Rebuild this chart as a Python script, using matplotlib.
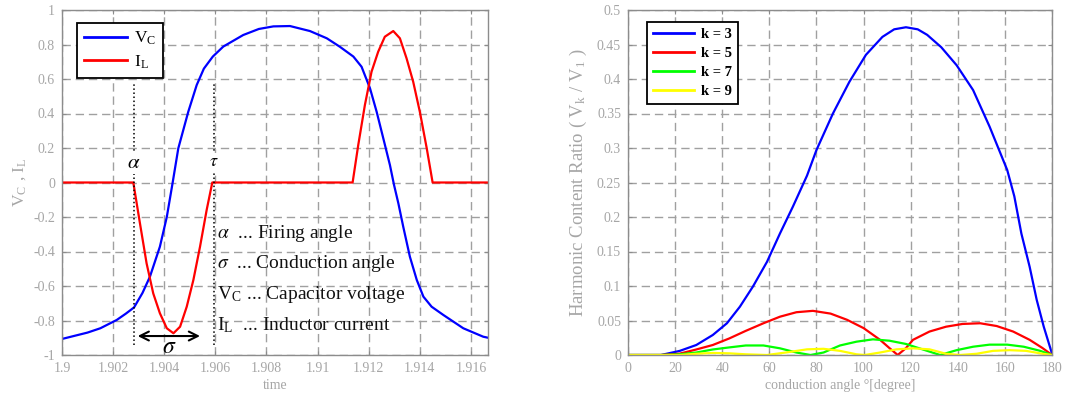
import matplotlib
matplotlib.use("Agg")
import matplotlib.pyplot as plt

plt.rcParams['font.family'] = ['Liberation Serif', 'DejaVu Serif']
plt.rcParams['mathtext.fontset'] = 'stix'

# left panel: capacitor voltage and inductor current vs time
vc_t = [1.9000, 1.9010, 1.9015, 1.90214, 1.9025, 1.90282, 1.90315, 1.90344, 1.90383,
        1.90410, 1.90433, 1.90455, 1.90494, 1.90527, 1.90555, 1.90590, 1.90631, 1.90709,
        1.90770, 1.90827, 1.90892, 1.90970, 1.91036, 1.91087, 1.91140, 1.91172, 1.91205,
        1.91231, 1.91257, 1.91283, 1.91299, 1.91316, 1.91335, 1.91361, 1.91388, 1.91414,
        1.91446, 1.91492, 1.91570, 1.91648, 1.91667]
vc_v = [-0.907, -0.87, -0.845, -0.797, -0.76, -0.724, -0.64, -0.546, -0.372,
        -0.2, 0.0, 0.198, 0.41, 0.565, 0.66, 0.73, 0.788, 0.855,
        0.89, 0.905, 0.907, 0.878, 0.836, 0.787, 0.73, 0.671, 0.546,
        0.41, 0.256, 0.101, -0.014, -0.121, -0.256, -0.43, -0.565, -0.662,
        -0.72, -0.768, -0.845, -0.894, -0.90]

il_t = [1.9000, 1.90279, 1.90305, 1.90331, 1.90357, 1.90383, 1.90410, 1.90436, 1.90462,
        1.90488, 1.90514, 1.90540, 1.90566, 1.90588, 1.91137, 1.91159, 1.91185, 1.91211,
        1.91237, 1.91263, 1.91296, 1.91322, 1.91348, 1.91374, 1.91400, 1.91427, 1.91450,
        1.91667]
il_v = [0, 0, -0.237, -0.469, -0.643, -0.758, -0.845, -0.874, -0.836,
        -0.72, -0.565, -0.372, -0.159, 0, 0, 0.217, 0.449, 0.642,
        0.758, 0.845, 0.878, 0.836, 0.72, 0.584, 0.41, 0.198, 0,
        0]

alpha_t = 1.90282
tau_t = 1.90595
time_ticks = [1.9, 1.902, 1.904, 1.906, 1.908, 1.91, 1.912, 1.914, 1.916]
time_labels = ['1.9', '1.902', '1.904', '1.906', '1.908', '1.91', '1.912', '1.914', '1.916']

# right panel: harmonic content vs conduction angle
k3_deg = [0, 14, 22, 29, 36, 42, 47.5, 53, 59, 64.5, 70, 76, 80, 87, 94, 101, 108, 113,
          118, 123, 127, 133, 139.5, 146.5, 153.5, 161, 164, 167, 170.5, 173.5, 176.5, 180]
k3_val = [0, 0, 0.006, 0.0145, 0.029, 0.046, 0.07, 0.099, 0.135, 0.176, 0.215, 0.26, 0.297,
          0.35, 0.396, 0.435, 0.461, 0.472, 0.475, 0.472, 0.464, 0.446, 0.42, 0.384, 0.331,
          0.268, 0.23, 0.176, 0.128, 0.08, 0.041, 0.002]
k5_deg = [0, 14, 22, 29, 36, 43, 50, 57.5, 64.5, 71.5, 78.5, 86, 93, 100, 107, 111, 114.5,
          118, 121, 128, 135, 142, 149.5, 156.5, 163.5, 170.5, 176, 180]
k5_val = [0, 0, 0.002, 0.008, 0.0145, 0.024, 0.035, 0.046, 0.0555, 0.062, 0.064, 0.06, 0.051,
          0.039, 0.022, 0.01, 0, 0.01, 0.022, 0.034, 0.041, 0.045, 0.046, 0.042, 0.034,
          0.022, 0.01, 0]
k7_deg = [0, 14, 22, 29, 36, 43, 50, 57.5, 64.5, 71.5, 77.5, 83, 90, 97, 104, 111, 118, 125,
          132.5, 139.5, 146.5, 153.5, 161, 168, 175, 180]
k7_val = [0, 0, 0.001, 0.0036, 0.008, 0.011, 0.0138, 0.0138, 0.0097, 0.0036, 0, 0.0036,
          0.0138, 0.0193, 0.0227, 0.0207, 0.016, 0.0082, 0, 0.007, 0.012, 0.015, 0.015,
          0.012, 0.006, 0]
k9_deg = [0, 14, 22, 29, 36, 43, 50, 59, 67, 76, 83, 90, 97, 100.5, 107, 114, 121, 128, 135,
          141, 148, 155, 162, 169, 176, 180]
k9_val = [0, 0, 0, 0.0018, 0.003, 0.0024, 0.001, 0, 0.0036, 0.0082, 0.009, 0.006, 0.001, 0,
          0.0036, 0.0082, 0.0097, 0.0082, 0.0018, 0, 0.0018, 0.006, 0.007, 0.006, 0.0018, 0]

gray = '#a6a6a6'
spine_gray = '#8c8c8c'


def style_axes(ax):
    for s in ax.spines.values():
        s.set_color(spine_gray)
        s.set_linewidth(1.0)
    ax.grid(True, color='#a0a0a0', linestyle=(0, (6, 3.5)), linewidth=1.0)
    ax.set_axisbelow(True)
    ax.tick_params(direction='in', length=3, color=spine_gray, labelcolor=gray,
                   labelsize=10, pad=5, top=True, right=True)


fig = plt.figure(figsize=(10.83, 3.97), dpi=100)

# ---- left ----
ax1 = fig.add_axes([62 / 1083, 42 / 397, 426 / 1083, 345 / 397])
ax1.plot(vc_t, vc_v, color='#0000ff', lw=1.6, label=r'V$_\mathregular{C}$')
ax1.plot(il_t, il_v, color='#ff0000', lw=1.6, label=r'I$_\mathregular{L}$')
ax1.set_xlim(1.9, 1.9 + 1 / 60)
ax1.set_ylim(-1, 1)
ax1.set_xticks(time_ticks)
ax1.set_xticklabels(time_labels)
ax1.set_yticks([-1, -0.8, -0.6, -0.4, -0.2, 0, 0.2, 0.4, 0.6, 0.8, 1])
ax1.set_yticklabels(['-1', '-0.8', '-0.6', '-0.4', '-0.2', '0', '0.2', '0.4', '0.6', '0.8', '1'])
style_axes(ax1)
ax1.set_xlabel('time', color=gray, fontsize=10, labelpad=3)
ax1.set_ylabel(r'V$_\mathregular{C}$ , I$_\mathregular{L}$', color=gray, fontsize=12.5, labelpad=4)

for xt in (alpha_t, tau_t):
    ax1.plot([xt, xt], [-0.94, 0.58], color='black', linestyle=':', lw=1.1)
ax1.text(alpha_t, 0.11, r'$\alpha$', fontsize=15, ha='center', va='center',
         bbox=dict(facecolor='white', edgecolor='none', pad=0.5))
ax1.text(tau_t, 0.12, r'$\tau$', fontsize=13, ha='center', va='center',
         bbox=dict(facecolor='white', edgecolor='none', pad=0.5))
ax1.annotate('', xy=(1.90296, -0.89), xytext=(1.90540, -0.89),
             arrowprops=dict(arrowstyle='<->', color='black', lw=1.5, mutation_scale=16,
                             shrinkA=0, shrinkB=0))
ax1.text(1.90419, -0.955, r'$\sigma$', fontsize=17, ha='center', va='center')

notes = [r'$\alpha$  ... Firing angle',
         r'$\sigma$  ... Conduction angle',
         r'V$_\mathregular{C}$ ... Capacitor voltage',
         r'I$_\mathregular{L}$  ... Inductor current']
for i, s in enumerate(notes):
    ax1.text(1.90607, -0.293 - i * 0.178, s, fontsize=14, ha='left', va='center',
             color='#111111')

leg1 = ax1.legend(loc='upper left', bbox_to_anchor=(0.035, 0.962), borderaxespad=0,
                  fontsize=12.5, fancybox=False, framealpha=1, edgecolor='black',
                  handlelength=2.5, handletextpad=0.4, borderpad=0.4, labelspacing=0.35)
leg1.get_frame().set_linewidth(1.3)
for ln in leg1.get_lines():
    ln.set_linewidth(2)

# ---- right ----
ax2 = fig.add_axes([628 / 1083, 42 / 397, 424 / 1083, 345 / 397])
ax2.plot(k3_deg, k3_val, color='#0000ff', lw=1.6, label='k = 3')
ax2.plot(k5_deg, k5_val, color='#ff0000', lw=1.6, label='k = 5')
ax2.plot(k7_deg, k7_val, color='#00ff00', lw=1.6, label='k = 7')
ax2.plot(k9_deg, k9_val, color='#ffff00', lw=1.6, label='k = 9')
ax2.set_xlim(0, 180)
ax2.set_ylim(0, 0.5)
ax2.set_xticks(range(0, 181, 20))
ax2.set_yticks([0, 0.05, 0.1, 0.15, 0.2, 0.25, 0.3, 0.35, 0.4, 0.45, 0.5])
ax2.set_yticklabels(['0', '0.05', '0.1', '0.15', '0.2', '0.25', '0.3', '0.35', '0.4', '0.45', '0.5'])
style_axes(ax2)
ax2.set_xlabel('conduction angle °[degree]', color=gray, fontsize=10, labelpad=3)
ax2.set_ylabel(r'Harmonic Content Ratio ( V$_\mathregular{k}$ / V$_\mathregular{1}$ )',
               color=gray, fontsize=13.5, labelpad=6)
leg2 = ax2.legend(loc='upper left', bbox_to_anchor=(0.045, 0.965), borderaxespad=0,
                  prop={'size': 10.5, 'weight': 'bold'}, fancybox=False, framealpha=1,
                  edgecolor='black', handlelength=2.8, handletextpad=0.5, borderpad=0.4,
                  labelspacing=0.4)
leg2.get_frame().set_linewidth(1.3)
for ln in leg2.get_lines():
    ln.set_linewidth(2)

fig.savefig('out.png', dpi=100)
